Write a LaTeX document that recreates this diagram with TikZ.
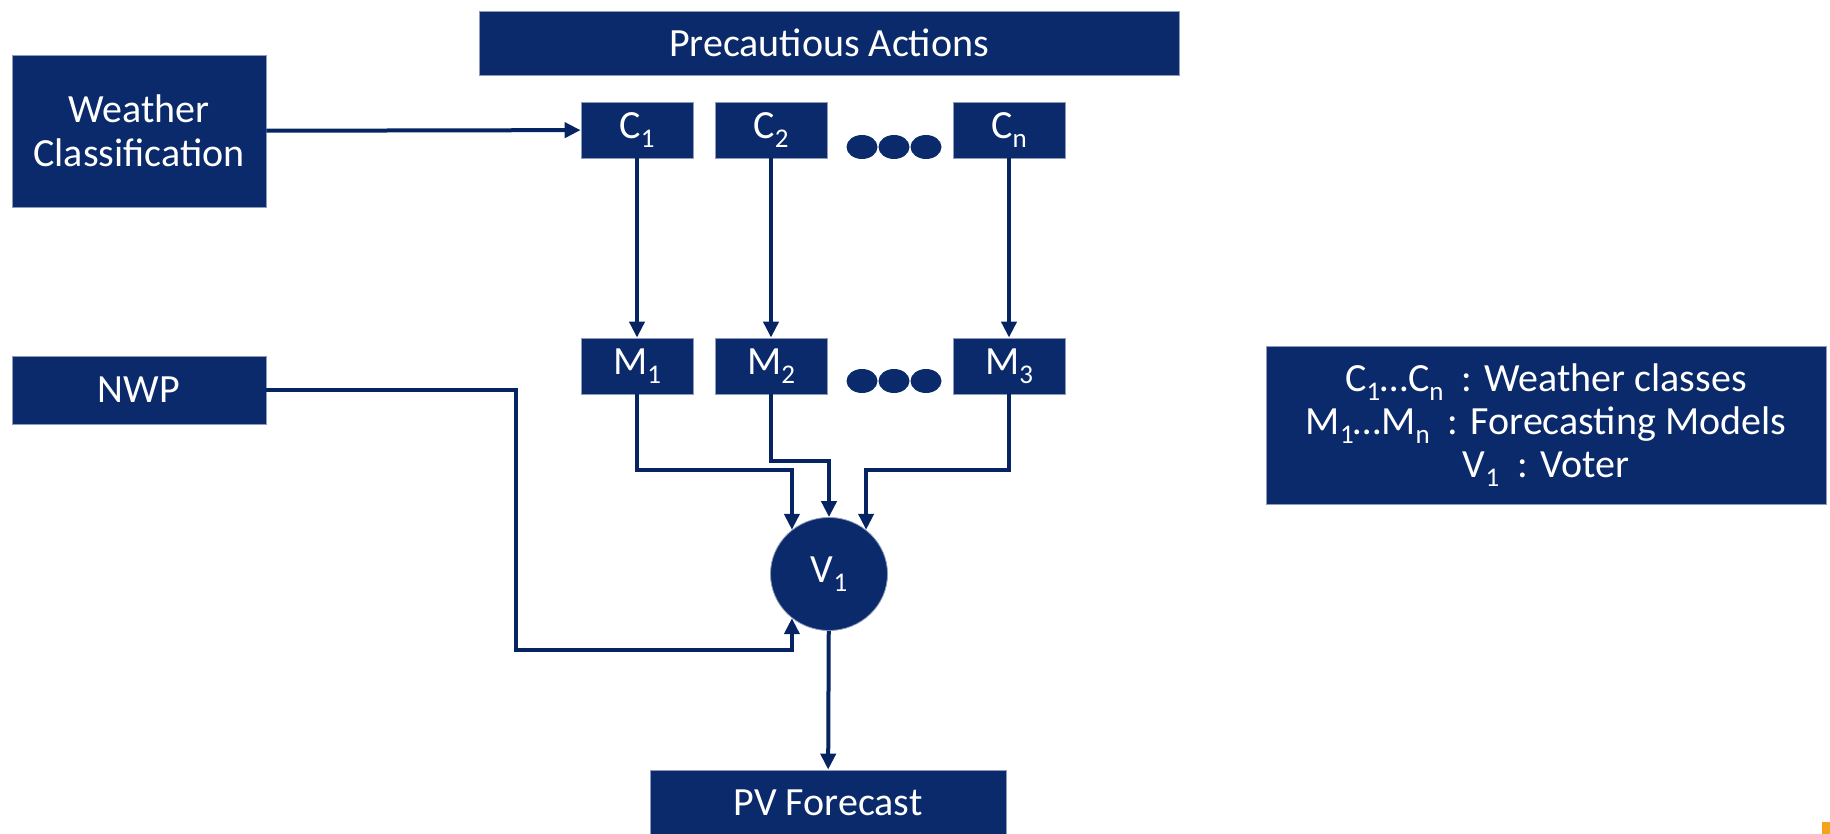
\documentclass[tikz,border=0pt]{standalone}
\usepackage{fontspec}
\setmainfont{Carlito}
\usetikzlibrary{arrows.meta,shapes.geometric}
\definecolor{boxnavy}{HTML}{0B2A6C}
\definecolor{linenavy}{HTML}{062462}
\definecolor{boxedge}{HTML}{8E9BBB}
\definecolor{slideorange}{HTML}{F5A31A}
\newcommand{\chiso}[1]{\raisebox{-0.45ex}{\fontsize{13.5}{13.5}\selectfont #1}}

\begin{document}
\begin{tikzpicture}[x=0.5pt,y=-0.5pt,node font=\fontsize{20}{22}\selectfont,
		khoi/.style={fill=boxnavy,draw=boxedge,line width=0.4pt,text=white,inner sep=0pt,align=center},
		ckhoi/.style={khoi,minimum width=56pt,minimum height=28pt},
		noi/.style={draw=linenavy,line width=2pt,-{Triangle[length=8pt,width=7.5pt]}}]
	\useasboundingbox (0,0) rectangle (1830,834);
	\node[khoi,minimum width=350pt,minimum height=32pt] (PA) at (829,43) {Precautious Actions};
	\node[khoi,minimum width=127pt,minimum height=76pt] (WC) at (139,131) {Weather\\Classification};
	\node[khoi,minimum width=127pt,minimum height=34pt] (NWP) at (139,390) {NWP};
	\node[ckhoi] (C1) at (637,130) {C\chiso{1}};
	\node[ckhoi] (C2) at (771,130) {C\chiso{2}};
	\node[ckhoi] (Cn) at (1009,130) {C\chiso{n}};
	\node[ckhoi] (M1) at (637,366) {M\chiso{1}};
	\node[ckhoi] (M2) at (771,366) {M\chiso{2}};
	\node[ckhoi] (M3) at (1009,366) {M\chiso{3}};
	\foreach \hang in {147,381}
		\foreach \cot in {862,894,926}
			\fill[boxnavy] (\cot,\hang) ellipse [x radius=15.5, y radius=12];
	\node[khoi,ellipse,minimum width=58.5pt,minimum height=56.5pt] (V1) at (829,574) {V\chiso{1}};
	\node[khoi,minimum width=178pt,minimum height=33pt] (PV) at (828,803) {PV Forecast};
	\node[khoi,minimum width=280pt,minimum height=79pt,node font=\fontsize{20}{21.5}\selectfont] (chuthich) at (1546,425)
		{C\chiso{1}…C\chiso{n}\ \ : Weather classes\\
		M\chiso{1}…M\chiso{n}\ \ : Forecasting Models\\
		V\chiso{1}\ \ : Voter};
	\fill[slideorange] (1822,822) rectangle (1830,834);
	\draw[noi] (WC) -- (C1);
	\draw[noi] (C1) -- (M1);
	\draw[noi] (C2) -- (M2);
	\draw[noi] (Cn) -- (M3);
	\draw[noi] (M1.south) -- ++(0,76) -| (V1.130);
	\draw[noi] (M2.south) -- ++(0,67) -| (V1.north);
	\draw[noi] (M3.south) -- ++(0,76) -| (V1.50);
	\draw[noi] (NWP.east) -- ++(250,0) -- ++(0,260) -| (V1.230);
	\draw[noi] (V1) -- (PV);
\end{tikzpicture}
\end{document}
